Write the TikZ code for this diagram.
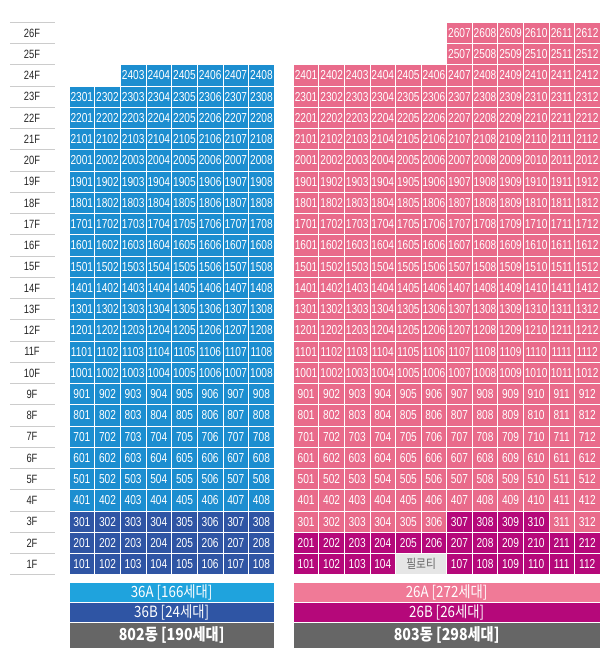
\documentclass[tikz,border=0pt]{standalone}
\usepackage{fontspec}
\setmainfont{Liberation Sans}[FakeStretch=0.78]
\newfontfamily\krfont{Noto Sans CJK KR}[FakeStretch=0.86]
\definecolor{skyblue}{HTML}{1C8ED0}
\definecolor{navyblue}{HTML}{2F55A4}
\definecolor{rose}{HTML}{E96B8B}
\definecolor{plum}{HTML}{B5087A}
\definecolor{pilotis}{HTML}{E6E6E6}
\definecolor{legendsky}{HTML}{1FA3DD}
\definecolor{legendrose}{HTML}{F07A97}
\definecolor{legendgray}{HTML}{666666}
\definecolor{floorline}{HTML}{CCCCCC}

\begin{document}
\begin{tikzpicture}[x=1pt, y=-1pt,
    unit/.style={minimum height=21.25pt, inner sep=0pt, draw=white,
                 line width=0.8pt, text=white, font=\fontsize{13}{13}\selectfont},
    floorlabel/.style={text=black!85, font=\fontsize{12}{12}\selectfont},
    legendbar/.style={inner sep=0pt, draw=white, line width=0.8pt, text=white,
                      font=\krfont\fontsize{15.5}{15.5}\selectfont}]
  \useasboundingbox (0, 0) rectangle (613, 658);

  % floor labels
  \foreach \i in {0,...,26}
    \draw[floorline, line width=0.8pt] (10, {22.3+\i*21.25}) -- (55, {22.3+\i*21.25});
  \foreach \f in {1,...,26}
    \node[floorlabel] (floor-\f) at (32, {22.3+(26.5-\f)*21.25}) {\f F};

  % 802
  \foreach \f in {1,...,24}
    \foreach \c in {1,...,8} {
      \pgfmathtruncatemacro\num{100*\f+\c}
      \pgfmathtruncatemacro\skip{(\f==24 && \c<3)}
      \ifnum\f<4 \def\col{navyblue}\else\def\col{skyblue}\fi
      \ifnum\skip=0
        \node[unit, minimum width=25.66pt, fill=\col] (b802-\num)
          at ({69+(\c-0.5)*25.66}, {22.3+(26.5-\f)*21.25}) {\num};
      \fi
    }

  % 803
  \foreach \f in {1,...,26}
    \foreach \c in {1,...,12} {
      \pgfmathtruncatemacro\num{100*\f+\c}
      \pgfmathtruncatemacro\dark{(\f<3) || (\f==3 && \c>6 && \c<11)}
      \pgfmathtruncatemacro\skip{(\f==1 && (\c==5 || \c==6)) || (\f>24 && \c<7)}
      \ifnum\dark=1 \def\col{plum}\else\def\col{rose}\fi
      \ifnum\skip=0
        \node[unit, minimum width=25.56pt, fill=\col] (b803-\num)
          at ({293.3+(\c-0.5)*25.56}, {22.3+(26.5-\f)*21.25}) {\num};
      \fi
    }
  \node[unit, minimum width=51.12pt, fill=pilotis, text=legendgray,
        font=\krfont\fontsize{12.5}{12.5}\selectfont] (b803-pilotis)
    at (421.1, {22.3+25*21.25+10.6}) {필로티};

  % legends
  \node[legendbar, fill=legendsky, minimum width=205.3pt, minimum height=20pt]
    (type36a) at (171.65, 592.7) {36A [166세대]};
  \node[legendbar, fill=navyblue, minimum width=205.3pt, minimum height=19.6pt]
    (type36b) at (171.65, 612.5) {36B [24세대]};
  \node[legendbar, fill=legendgray, minimum width=205.3pt, minimum height=26pt,
        font=\krfont\bfseries\fontsize{16.5}{16.5}\selectfont]
    (dong802) at (171.65, 635.3) {802동 [190세대]};

  \node[legendbar, fill=legendrose, minimum width=306.7pt, minimum height=20pt]
    (type26a) at (446.65, 592.7) {26A [272세대]};
  \node[legendbar, fill=plum, minimum width=306.7pt, minimum height=19.6pt]
    (type26b) at (446.65, 612.5) {26B [26세대]};
  \node[legendbar, fill=legendgray, minimum width=306.7pt, minimum height=26pt,
        font=\krfont\bfseries\fontsize{16.5}{16.5}\selectfont]
    (dong803) at (446.65, 635.3) {803동 [298세대]};
\end{tikzpicture}
\end{document}
